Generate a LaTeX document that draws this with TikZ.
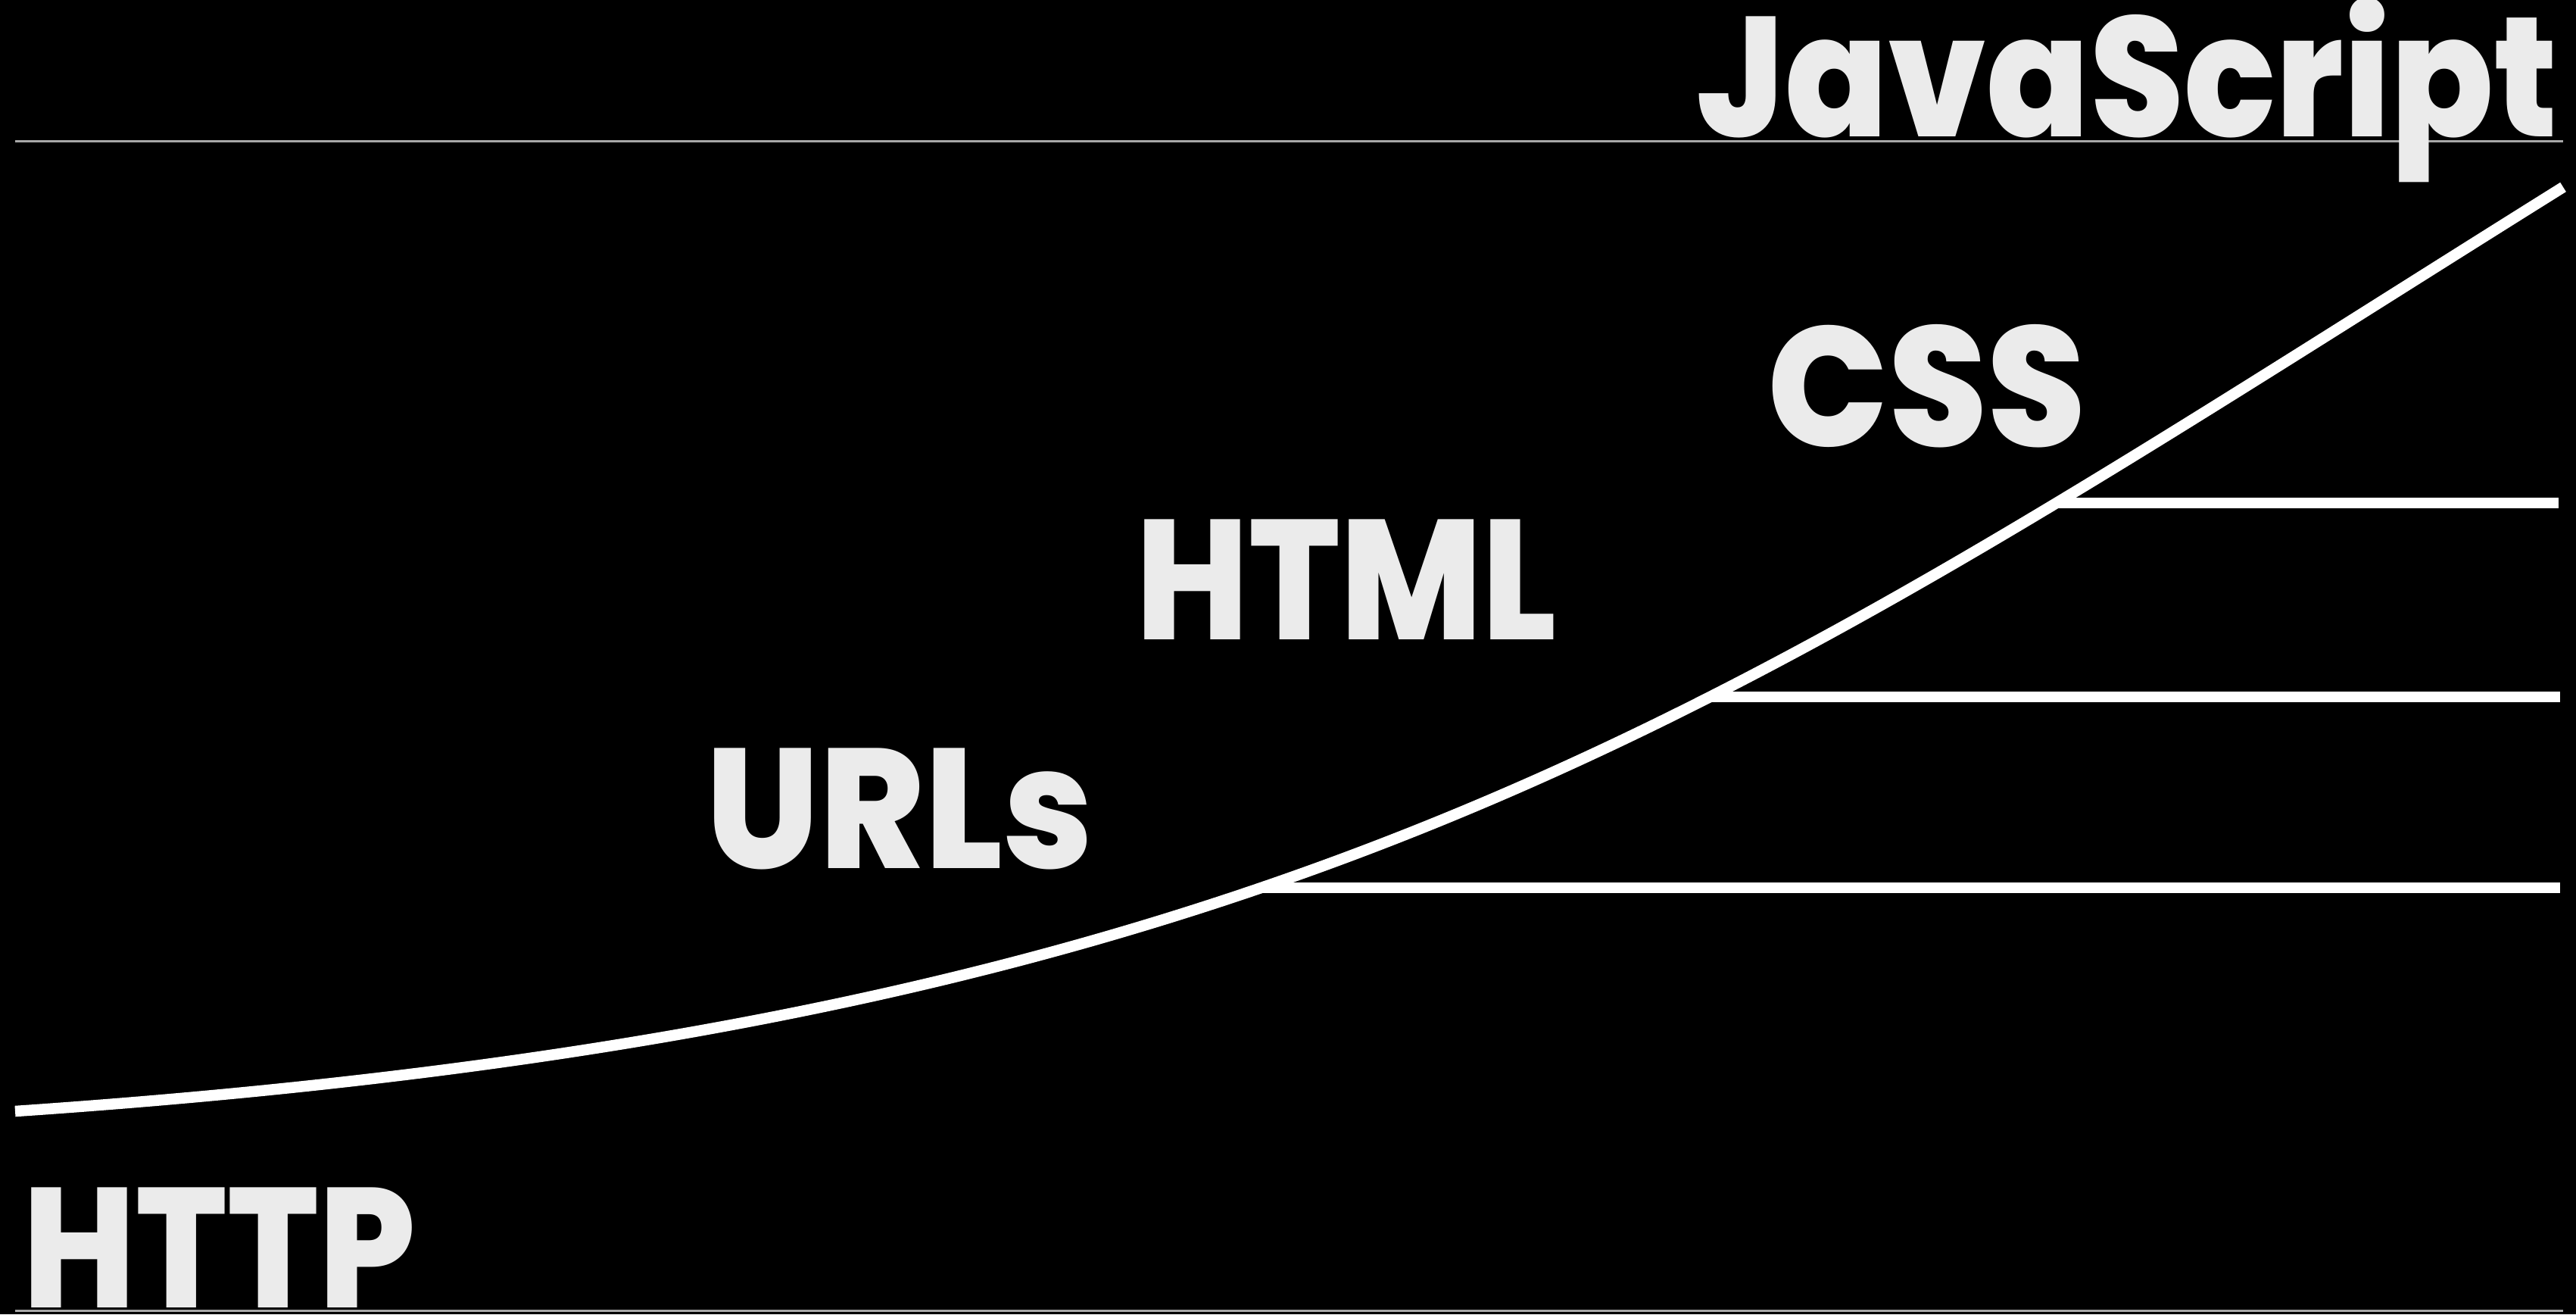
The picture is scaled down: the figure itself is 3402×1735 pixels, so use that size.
\documentclass[tikz,border=0pt]{standalone}
\usepackage{fontspec}
\usetikzlibrary{intersections}
\setmainfont{Poppins}
\newfontfamily\lblfont{Poppins}[UprightFont=* ExtraBold, FakeStretch=0.89]
\definecolor{txt}{HTML}{EBEBEB}
\definecolor{rule}{HTML}{A8A8A8}
\tikzset{
  lbl/.style={anchor=base west, inner sep=0pt, text depth=0pt, text=txt, font=\fontsize{64pt}{70pt}\lblfont},
  thinrule/.style={draw=rule, line width=0.03cm},
  thickline/.style={draw=white, line width=0.135cm},
}
\begin{document}
\begin{tikzpicture}[x=0.01cm, y=-0.01cm]
\fill[black] (0,0) rectangle (3402,1735);
\useasboundingbox (0,0) rectangle (3402,1735);
% rules
\coordinate (tl) at (20,186);
\coordinate (tr) at (3385,186);
\coordinate (bl) at (20,1730);
\coordinate (br) at (3385,1730);
\draw[thinrule] (tl) -- (tr);
\draw[thinrule] (bl) -- (br);
% curve
\coordinate (cs) at (20,1467);
\coordinate (ce) at (3385,247);
\draw[thickline, line width=0.145cm, name path=curve] (cs) .. controls (1740,1350) and (2300,925) .. (ce);
% branch lines
\path[name path=lu] (0,1172) -- (3402,1172);
\path[name path=lh] (0,920) -- (3402,920);
\path[name path=lc] (0,664) -- (3402,664);
\path[name intersections={of=curve and lu, by=u1}];
\path[name intersections={of=curve and lh, by=h1}];
\path[name intersections={of=curve and lc, by=c1}];
\coordinate (u2) at (3381,1172);
\coordinate (h2) at (3381,920);
\coordinate (c2) at (3379,664);
\draw[thickline] (u1) -- (u1 -| u2);
\draw[thickline] (h1) -- (h1 -| h2);
\draw[thickline] (c1) -- (c1 -| c2);
% labels
\node[lbl] (js) at (2240,180) {JavaScript};
\node[lbl] (css) at (2334,589) {\scalebox{1.05}[1]{CSS}};
\node[lbl] (html) at (1500,844) {HTML};
\node[lbl] (urls) at (932,1146) {\scalebox{1.05}[1]{URLs}};
\node[lbl] (http) at (30,1726) {HTTP};
\end{tikzpicture}
\end{document}
